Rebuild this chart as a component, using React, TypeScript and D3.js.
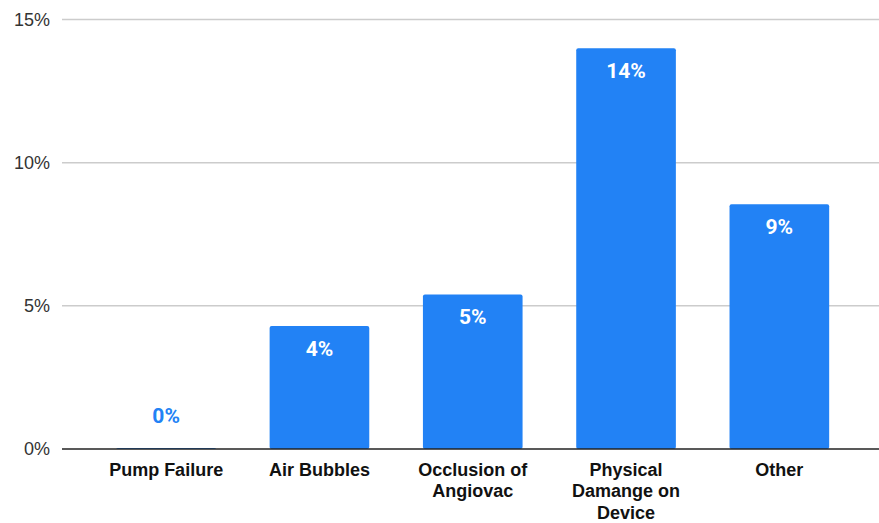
import React from "react";
import * as d3 from "d3";

const categories: string[][] = [
  ["Pump Failure"],
  ["Air Bubbles"],
  ["Occlusion of", "Angiovac"],
  ["Physical", "Damange on", "Device"],
  ["Other"],
];
const values: number[] = [0, 4.3, 5.4, 14.0, 8.55];
const valueLabels: string[] = ["0%", "4%", "5%", "14%", "9%"];
const yTicks: number[] = [0, 5, 10, 15];

const W = 879;
const H = 523;
const BLUE = "#2282f5";

export default function App() {
  const x = d3
    .scaleBand<number>()
    .domain(values.map((_, i) => i))
    .range([89.5, 856])
    .paddingInner(0.35)
    .paddingOuter(0.175);
  const y = d3.scaleLinear().domain([0, 15]).range([449, 19.5]);
  const gridLeft = 62;
  const gridRight = 879;

  return (
    <svg
      width={W}
      height={H}
      style={{ position: "absolute", left: 0, top: 0, background: "#fff" }}
    >
      {yTicks.map((t) => (
        <g key={t}>
          {t !== 0 && (
            <line
              x1={gridLeft}
              x2={gridRight}
              y1={y(t)}
              y2={y(t)}
              stroke="#cccccc"
              strokeWidth={1.5}
            />
          )}
          <text
            x={50}
            y={y(t)}
            dy="0.36em"
            textAnchor="end"
            fontFamily="Arial, 'Liberation Sans', sans-serif"
            fontSize={18}
            fill="#333"
          >
            {t}%
          </text>
        </g>
      ))}
      {values.map((v, i) => {
        const bx = x(i)!;
        const bw = x.bandwidth();
        const top = y(v);
        const h = y(0) - top;
        const inside = h > 30;
        return (
          <g key={i}>
            <rect
              x={bx}
              y={top - (h < 1 ? 1 : 0)}
              width={bw}
              height={Math.max(h, 1)}
              fill={BLUE}
              rx={2}
            />
            <text
              x={bx + bw / 2}
              y={inside ? top + 30 : top - 26}
              textAnchor="middle"
              fontFamily="Roboto, Arial, sans-serif"
              fontWeight="bold"
              fontSize={21}
              fill={inside ? "#ffffff" : BLUE}
            >
              {valueLabels[i]}
            </text>
          </g>
        );
      })}
      <line
        x1={gridLeft}
        x2={gridRight}
        y1={y(0)}
        y2={y(0)}
        stroke="#222"
        strokeWidth={1.5}
      />
      {categories.map((lines, i) => (
        <text
          key={i}
          x={x(i)! + x.bandwidth() / 2}
          textAnchor="middle"
          fontFamily="Arial, 'Liberation Sans', sans-serif"
          fontWeight="bold"
          fontSize={18}
          fill="#111"
        >
          {lines.map((l, j) => (
            <tspan key={j} x={x(i)! + x.bandwidth() / 2} y={475.5 + j * 21.5}>
              {l}
            </tspan>
          ))}
        </text>
      ))}
    </svg>
  );
}
